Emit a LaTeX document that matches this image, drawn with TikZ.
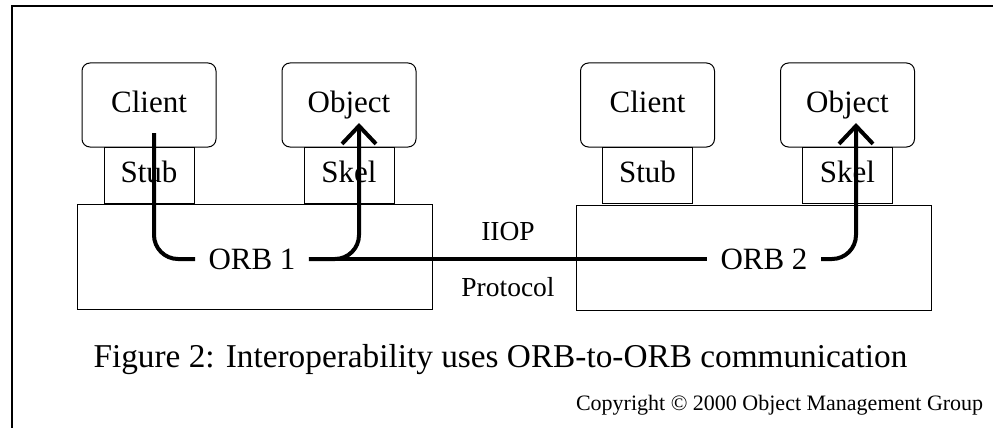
\documentclass[tikz,border=0pt]{standalone}
\usepackage{fontspec}
\setmainfont{Liberation Serif}
\usetikzlibrary{arrows.meta}

\begin{document}
\begin{tikzpicture}[x=1pt,y=-1pt,line width=1pt,
  appbox/.style={draw,rounded corners=8pt,minimum width=134pt,minimum height=84pt,
    text height=20pt,text depth=6pt,font=\fontsize{31}{36}\selectfont},
  partbox/.style={draw,minimum width=90pt,minimum height=56pt,
    text height=20pt,text depth=6pt,font=\fontsize{31}{36}\selectfont},
  orbbox/.style={draw,minimum width=355pt,minimum height=105pt},
  orbtext/.style={inner xsep=13pt,font=\fontsize{31}{36}\selectfont},
  flow/.style={line width=4pt,rounded corners=24pt},
  tip/.style={-{Straight Barb[length=18pt,width=34pt]}},
  small/.style={font=\fontsize{27.5}{32}\selectfont}
]
  \useasboundingbox (0,0) rectangle (993,428);

  % 外枠
  \draw[line width=2pt] (12,428) -- (12,6) -- (993,6);

  % ORBの箱
  \node[orbbox] (orb1box) at (255,256.5) {};
  \node[orbbox] (orb2box) at (753.5,258) {};
  \node[orbtext] (orb1) at (252,259) {ORB 1};
  \node[orbtext] (orb2) at (764,259) {ORB 2};

  % クライアントとオブジェクト
  \node[appbox] (client1) at (149,105) {Client};
  \node[appbox] (object1) at (349,105) {Object};
  \node[appbox] (client2) at (647.5,105) {Client};
  \node[appbox] (object2) at (847.5,105) {Object};
  \node[partbox] (stub1) at (149,175) {Stub};
  \node[partbox] (skel1) at (349,175) {Skel};
  \node[partbox] (stub2) at (647.5,175) {Stub};
  \node[partbox] (skel2) at (847.5,175) {Skel};

  % 呼び出しの経路
  \coordinate (start1) at (154,133);
  \coordinate (end1) at (359,123);
  \coordinate (end2) at (856,123);
  \draw[flow] (start1) |- (orb1.west);
  \draw[flow,tip] (orb1.east) -| (end1);
  \draw[line width=4pt] (orb1.east) -- (orb2.west)
    node[small,midway,yshift=27pt] {IIOP}
    node[small,midway,yshift=-28pt] {Protocol};
  \draw[flow,tip] (orb2.east) -| (end2);

  % キャプション
  \node[font=\fontsize{33.3}{38}\selectfont] (caption) at (500.5,360)
    {Figure 2: Interoperability uses ORB-to-ORB communication};
  \node[font=\fontsize{22}{26}\selectfont,anchor=east] (copy) at (987,405)
    {Copyright © 2000 Object Management Group};
\end{tikzpicture}
\end{document}
